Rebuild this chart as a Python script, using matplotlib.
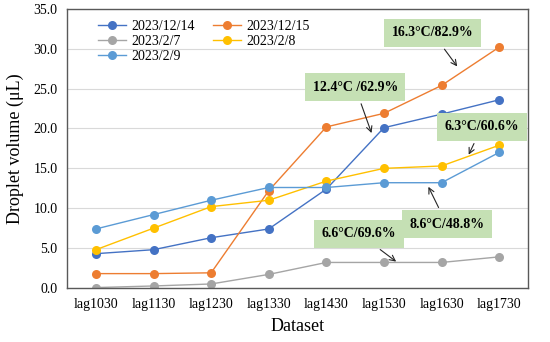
import matplotlib
matplotlib.use("Agg")
import matplotlib.pyplot as plt

plt.rcParams['font.family'] = ['Liberation Serif', 'DejaVu Serif']

# data
datasets = ["lag1030", "lag1130", "lag1230", "lag1330",
            "lag1430", "lag1530", "lag1630", "lag1730"]
d_20231214 = [4.3, 4.8, 6.3, 7.4, 12.4, 20.1, 21.8, 23.6]
d_20231215 = [1.8, 1.8, 1.9, 12.2, 20.2, 21.9, 25.4, 30.2]
d_202327 = [0.05, 0.25, 0.5, 1.7, 3.2, 3.2, 3.2, 3.9]
d_202328 = [4.8, 7.5, 10.2, 11.0, 13.4, 15.0, 15.3, 17.9]
d_202329 = [7.4, 9.2, 11.0, 12.6, 12.6, 13.2, 13.2, 17.0]

series = [
    ("2023/12/14", d_20231214, "#4472C4"),
    ("2023/12/15", d_20231215, "#ED7D31"),
    ("2023/2/7", d_202327, "#A5A5A5"),
    ("2023/2/8", d_202328, "#FFC000"),
    ("2023/2/9", d_202329, "#5B9BD5"),
]

fig = plt.figure(figsize=(5.5, 3.42), dpi=100)
ax = fig.add_axes([0.122, 0.158, 0.838, 0.816])

x = list(range(len(datasets)))
handles = {}
for name, vals, col in series:
    h, = ax.plot(x, vals, color=col, lw=1.0, marker='o', ms=6.5,
                 markeredgewidth=0, label=name)
    handles[name] = h

ax.set_xlim(-0.5, len(datasets) - 0.5)
ax.set_ylim(0, 35)
ax.set_yticks([0, 5, 10, 15, 20, 25, 30, 35])
ax.set_yticklabels([f"{v:.1f}" for v in ax.get_yticks()], fontsize=10)
ax.set_xticks(x)
ax.set_xticklabels(datasets, fontsize=10)
ax.tick_params(length=0, pad=7)
ax.grid(axis='y', color='#D9D9D9', lw=0.8)
ax.set_axisbelow(True)
for s in ax.spines.values():
    s.set_color('#595959')
    s.set_linewidth(1.0)

ax.set_xlabel("Dataset", fontsize=13, labelpad=5)
ax.set_ylabel("Droplet volume (μL)", fontsize=13, labelpad=7)

order = ["2023/12/14", "2023/2/7", "2023/2/9", "2023/12/15", "2023/2/8"]
ax.legend([handles[n] for n in order], order, ncol=2, frameon=False,
          fontsize=10, loc='upper left', bbox_to_anchor=(0.05, 0.99),
          handlelength=2.0, handletextpad=0.4, columnspacing=1.3,
          labelspacing=0.15, borderaxespad=0.2)

box = dict(boxstyle='square,pad=0.55', fc='#C5E0B4', ec='none')
arrow = dict(arrowstyle='->', color='#262626', lw=0.8)
notes = [
    ("16.3°C/82.9%", (6.30, 27.5), (5.84, 32.0)),
    ("12.4°C /62.9%", (4.80, 19.1), (4.50, 25.2)),
    ("6.3°C/60.6%", (6.45, 16.4), (6.70, 20.2)),
    ("8.6°C/48.8%", (5.75, 13.0), (6.09, 8.0)),
    ("6.6°C/69.6%", (5.25, 3.1), (4.57, 6.8)),
]
for txt, xy, xyt in notes:
    ax.annotate(txt, xy=xy, xytext=xyt, fontsize=10, fontweight='bold',
                ha='center', va='center', bbox=box, arrowprops=arrow,
                annotation_clip=False)

fig.savefig("out.png", dpi=100)
